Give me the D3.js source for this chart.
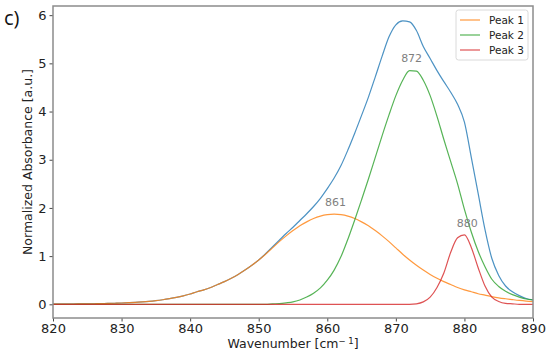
<!DOCTYPE html>
<html><head><meta charset="utf-8">
<script src="https://cdn.jsdelivr.net/npm/d3@7/dist/d3.min.js"></script>
<style>body{margin:0;background:#fff}svg{display:block}</style>
</head><body>
<svg id="chart" width="550" height="356"></svg>
<script>
// Wavenumbers 820..890 (cm^-1), one point each
const wavenumbers = d3.range(820, 891);
const total = [0.003,0.004,0.005,0.006,0.008,0.01,0.012,0.015,0.018,0.022,0.027,0.033,0.04,0.05,0.062,0.077,0.095,0.117,0.143,0.175,0.215,0.26,0.3,0.35,0.41,0.47,0.54,0.62,0.71,0.81,0.92,1.05,1.19,1.33,1.47,1.6,1.74,1.88,2.03,2.2,2.4,2.62,2.88,3.2,3.55,3.92,4.3,4.72,5.15,5.55,5.8,5.88,5.86,5.68,5.35,5.1,4.85,4.62,4.4,4.15,3.78,3.05,2.3,1.55,0.95,0.6,0.38,0.26,0.18,0.12,0.09];
const peak1 = [0.003,0.004,0.005,0.006,0.008,0.01,0.012,0.015,0.018,0.022,0.027,0.033,0.04,0.05,0.062,0.077,0.095,0.117,0.143,0.175,0.215,0.26,0.3,0.35,0.41,0.47,0.54,0.62,0.71,0.81,0.92,1.04,1.17,1.3,1.42,1.53,1.63,1.71,1.78,1.83,1.86,1.87,1.86,1.83,1.78,1.71,1.63,1.53,1.42,1.3,1.17,1.04,0.92,0.81,0.71,0.62,0.54,0.47,0.41,0.35,0.3,0.26,0.22,0.19,0.16,0.135,0.115,0.097,0.08,0.066,0.055];
const peak2 = [0,0,0,0,0,0,0,0,0,0,0,0,0,0,0,0,0,0,0,0,0,0,0,0,0,0,0,0,0,0,0,0,0.01,0.015,0.03,0.05,0.09,0.15,0.23,0.34,0.5,0.71,0.99,1.35,1.75,2.17,2.6,3.05,3.5,3.93,4.33,4.65,4.85,4.84,4.65,4.33,3.9,3.42,2.96,2.5,1.97,1.5,1.1,0.78,0.52,0.37,0.27,0.2,0.15,0.11,0.09];
const peak3 = [0,0,0,0,0,0,0,0,0,0,0,0,0,0,0,0,0,0,0,0,0,0,0,0,0,0,0,0,0,0,0,0,0,0,0,0,0,0,0,0,0,0,0,0,0,0,0,0,0,0,0,0,0,0.01,0.05,0.15,0.35,0.65,1.08,1.38,1.44,1.18,0.76,0.38,0.15,0.06,0.02,0.01,0,0,0];
const seriesNames = ["Total", "Peak 1", "Peak 2", "Peak 3"];
const seriesColors = ["#1f77b4", "#ff7f0e", "#2ca02c", "#d62728"];
const xTicks = [820, 830, 840, 850, 860, 870, 880, 890];
const yTicks = [0, 1, 2, 3, 4, 5, 6];
const peakLabels = ["861", "872", "880"];
const peakPos = [861.2, 872.3, 880.4];
const peakHeight = [1.87, 4.87, 1.44];

const svg = d3.select("#chart");
const W = 550, H = 356;
const m = {left: 53, right: 17, top: 6, bottom: 38};
const iw = W - m.left - m.right, ih = H - m.top - m.bottom;
const x = d3.scaleLinear().domain([820, 890]).range([m.left, m.left + iw]);
const y = d3.scaleLinear().domain([-0.284, 6.19]).range([m.top + ih, m.top]);
const font = "DejaVu Sans, sans-serif";

const allSeries = [total, peak1, peak2, peak3];
const line = d3.line().x((d, i) => x(wavenumbers[i])).y(d => y(d)).curve(d3.curveMonotoneX);
const g = svg.append("g");
g.append("clipPath").attr("id", "clip").append("rect")
  .attr("x", m.left).attr("y", m.top).attr("width", iw).attr("height", ih);
const plot = g.append("g").attr("clip-path", "url(#clip)");
allSeries.forEach((s, k) => {
  plot.append("path").datum(s).attr("d", line)
    .attr("fill", "none").attr("stroke", seriesColors[k])
    .attr("stroke-width", 1.2).attr("stroke-opacity", 0.8);
});

// Peak annotations
peakLabels.forEach((t, i) => {
  g.append("text").attr("x", x(peakPos[i])).attr("y", y(peakHeight[i]) - 8)
    .attr("text-anchor", "middle").attr("font-family", font).attr("font-size", 11)
    .attr("fill", "#7f7f7f").text(t);
});

// Axes
const xAxis = d3.axisBottom(x).tickValues(xTicks).tickSize(3.5).tickPadding(2).tickFormat(d3.format("d"));
const yAxis = d3.axisLeft(y).tickValues(yTicks).tickSize(3.5).tickPadding(3).tickFormat(d3.format("d"));
const gx = g.append("g").attr("transform", `translate(0,${m.top + ih})`).call(xAxis);
const gy = g.append("g").attr("transform", `translate(${m.left},0)`).call(yAxis);
[gx, gy].forEach(a => {
  a.select(".domain").remove();
  a.selectAll("line").attr("stroke", "#333").attr("stroke-width", 0.9);
  a.selectAll("text").attr("font-family", font).attr("font-size", 13).attr("fill", "#222");
});
// Frame
g.append("rect").attr("x", m.left).attr("y", m.top).attr("width", iw).attr("height", ih)
  .attr("fill", "none").attr("stroke", "#8c8c8c").attr("stroke-width", 1.5);

// Axis labels
const xl = g.append("text").attr("x", m.left + iw / 2).attr("y", 347.5)
  .attr("text-anchor", "middle").attr("font-family", font).attr("font-size", 12.5).attr("fill", "#222");
xl.append("tspan").text("Wavenumber [cm");
xl.append("tspan").attr("dy", -4).attr("font-size", 8.5).text("\u2212 1");
xl.append("tspan").attr("dy", 4).text("]");
g.append("text").attr("transform", `translate(32,${m.top + ih / 2}) rotate(-90)`)
  .attr("text-anchor", "middle").attr("font-family", font).attr("font-size", 12.5).attr("fill", "#222")
  .text("Normalized Absorbance [a.u.]");

// Panel label
g.append("text").attr("x", 4).attr("y", 25).attr("font-family", "Open Sans, sans-serif")
  .attr("font-size", 20).attr("fill", "#111").text("c)");

// Legend
const lg = g.append("g").attr("transform", "translate(456,10)");
lg.append("rect").attr("width", 72).attr("height", 50).attr("rx", 2.5)
  .attr("fill", "#fff").attr("fill-opacity", 0.8).attr("stroke", "#d0d0d0").attr("stroke-width", 0.8);
[1, 2, 3].forEach((k, i) => {
  const yy = 10 + i * 15;
  lg.append("line").attr("x1", 4).attr("x2", 24).attr("y1", yy).attr("y2", yy)
    .attr("stroke", seriesColors[k]).attr("stroke-width", 1.2).attr("stroke-opacity", 0.8);
  lg.append("text").attr("x", 33).attr("y", yy + 4).attr("font-family", font).attr("font-size", 10.5)
    .attr("fill", "#222").text(seriesNames[k]);
});
</script>
</body></html>
